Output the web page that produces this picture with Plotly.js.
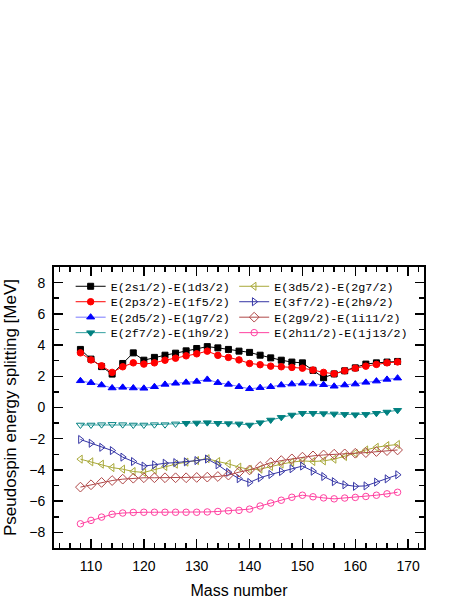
<!DOCTYPE html>
<html>
<head>
<meta charset="utf-8">
<script src="https://cdn.plot.ly/plotly-3.0.1.min.js"></script>
<style>
  html, body { margin: 0; padding: 0; background: #fff; }
  #chart { width: 463px; height: 599px; }
</style>
</head>
<body>
<div id="chart"></div>
<script>
// mass numbers, 108..168 in steps of 2
const mass = [108, 110, 112, 114, 116, 118, 120, 122, 124, 126, 128, 130, 132, 134, 136, 138,
              140, 142, 144, 146, 148, 150, 152, 154, 156, 158, 160, 162, 164, 166, 168];

// pseudospin splittings [MeV]
const s1d3 = [3.72, 3.10, 2.62, 2.14, 2.82, 3.50, 3.03, 3.21, 3.35, 3.48, 3.63, 3.78, 3.90, 3.82, 3.72, 3.61,
              3.53, 3.35, 3.18, 3.03, 2.91, 2.86, 2.38, 1.91, 2.15, 2.35, 2.54, 2.78, 2.86, 2.91, 2.95];
const p3f5 = [3.50, 3.05, 2.67, 2.25, 2.61, 2.86, 2.78, 2.86, 3.03, 3.16, 3.31, 3.44, 3.61, 3.34, 3.21, 3.05,
              2.82, 2.74, 2.65, 2.61, 2.57, 2.52, 2.40, 2.25, 2.16, 2.35, 2.52, 2.65, 2.76, 2.86, 2.92];
const d5g7 = [1.71, 1.59, 1.44, 1.25, 1.29, 1.25, 1.23, 1.33, 1.48, 1.55, 1.61, 1.67, 1.80, 1.59, 1.48, 1.33,
              1.20, 1.27, 1.33, 1.44, 1.50, 1.55, 1.50, 1.46, 1.36, 1.44, 1.50, 1.61, 1.69, 1.80, 1.88];
const f7h9 = [-1.12, -1.12, -1.10, -1.08, -1.10, -1.12, -1.12, -1.10, -1.10, -1.05, -1.01, -0.99, -0.97, -1.01, -1.03, -1.05,
              -1.12, -0.97, -0.80, -0.63, -0.48, -0.37, -0.37, -0.39, -0.41, -0.44, -0.46, -0.44, -0.37, -0.29, -0.18];
const d5g7b = [-3.31, -3.48, -3.63, -3.85, -3.95, -4.10, -4.16, -3.99, -3.78, -3.63, -3.50, -3.40, -3.28, -3.46, -3.61, -3.82,
               -3.97, -3.95, -3.78, -3.63, -3.50, -3.42, -3.46, -3.42, -3.31, -3.14, -2.93, -2.72, -2.55, -2.44, -2.37];
const f7h9b = [-2.05, -2.29, -2.55, -2.76, -3.18, -3.46, -3.75, -3.67, -3.57, -3.53, -3.48, -3.40, -3.30, -3.67, -4.15, -4.56,
               -4.80, -4.50, -4.29, -4.10, -3.92, -3.75, -4.08, -4.42, -4.75, -4.95, -5.05, -5.02, -4.78, -4.57, -4.31];
const g9i11 = [-5.10, -4.95, -4.80, -4.68, -4.59, -4.53, -4.50, -4.50, -4.50, -4.50, -4.50, -4.48, -4.46, -4.42, -4.33, -4.14,
               -4.00, -3.78, -3.53, -3.40, -3.29, -3.18, -3.10, -3.04, -2.99, -2.97, -2.93, -2.89, -2.82, -2.76, -2.72];
const h11j13 = [-7.45, -7.23, -7.02, -6.84, -6.76, -6.72, -6.71, -6.71, -6.71, -6.71, -6.71, -6.71, -6.69, -6.66, -6.62, -6.59,
                -6.51, -6.31, -6.12, -5.94, -5.75, -5.62, -5.72, -5.79, -5.85, -5.80, -5.76, -5.70, -5.62, -5.53, -5.43];

const names = ['E(2s1/2)-E(1d3/2)', 'E(2p3/2)-E(1f5/2)', 'E(2d5/2)-E(1g7/2)', 'E(2f7/2)-E(1h9/2)',
               'E(3d5/2)-E(2g7/2)', 'E(3f7/2)-E(2h9/2)', 'E(2g9/2)-E(1i11/2)', 'E(2h11/2)-E(1j13/2)'];

// the 2f7/2 points below this mass are drawn hollow in the original
const TEAL_OPEN_BELOW = 128;

function series(y, name, lineColor, markerColor, symbol, legend, size) {
  return {
    x: mass, y: y, name: name, legend: legend,
    type: 'scatter', mode: 'lines+markers',
    line: {color: lineColor, width: 1},
    marker: {color: markerColor, symbol: symbol, size: size, line: {color: markerColor, width: 1}},
  };
}

// teal one goes in reverse so the legend picks up a filled symbol
let tealX = mass.slice().reverse();
let tealY = f7h9.slice().reverse();
let tealSym = tealX.map(m => m < TEAL_OPEN_BELOW ? 'triangle-down-open' : 'triangle-down');

const traces = [
  series(s1d3, names[0], '#000000', '#000000', 'square', 'legend', 6),
  series(p3f5, names[1], '#ff0000', '#ff0000', 'circle', 'legend2', 6.5),
  series(d5g7, names[2], '#7878ff', '#0000ff', 'triangle-up', 'legend3', 7),
  {
    x: tealX, y: tealY, name: names[3], legend: 'legend4',
    type: 'scatter', mode: 'lines+markers',
    line: {color: '#33a0a0', width: 1},
    marker: {color: '#008080', symbol: tealSym, size: 7, line: {color: '#008080', width: 1}},
  },
  series(d5g7b, names[4], '#a8a838', '#a8a838', 'triangle-left-open', 'legend5', 7),
  series(f7h9b, names[5], '#3535a5', '#3535a5', 'triangle-right-open', 'legend6', 7),
  series(g9i11, names[6], '#b04848', '#b04848', 'diamond-open', 'legend7', 7.5),
  series(h11j13, names[7], '#ff40a0', '#ff40a0', 'circle-open', 'legend8', 6.5),
];

const legendFont = {family: 'Liberation Mono, Courier New, monospace', size: 11.7, color: '#000'};

// one legend per entry so the rows can sit as tight as in the original
const legendCols = [0.045, 0.487];
const legendRows = [0.983, 0.928, 0.873, 0.818];

const axisCommon = {
  showgrid: false, zeroline: false,
  showline: true, linecolor: '#000', linewidth: 2, mirror: 'allticks',
  ticks: 'inside', ticklen: 9, tickwidth: 1.5, tickcolor: '#000',
  tickfont: {family: 'Liberation Sans, Arial, sans-serif', size: 14, color: '#000'},
  ticklabelstandoff: 4,
  automargin: false,
};

const layout = {
  width: 463, height: 599,
  margin: {l: 54, r: 39, t: 267, b: 51},
  paper_bgcolor: '#fff', plot_bgcolor: '#fff',
  showlegend: true,
  xaxis: Object.assign({}, axisCommon, {
    range: [103, 173], dtick: 10, tick0: 100,
    minor: {dtick: 2, ticks: 'inside', ticklen: 5, tickwidth: 1.5, tickcolor: '#000'},
    title: {text: 'Mass number', font: {family: 'Liberation Sans, Arial, sans-serif', size: 16, color: '#000'}, standoff: 12},
  }),
  yaxis: Object.assign({}, axisCommon, {
    range: [-9, 9], dtick: 2, tick0: 0,
    minor: {dtick: 1, ticks: 'inside', ticklen: 5, tickwidth: 1.5, tickcolor: '#000'},
    title: {text: 'Pseudospin energy splitting [MeV]', font: {family: 'Liberation Sans, Arial, sans-serif', size: 17, color: '#000'}, standoff: 8},
  }),
};

for (let i = 0; i < 8; i++) {
  const key = i === 0 ? 'legend' : 'legend' + (i + 1);
  layout[key] = {
    x: legendCols[Math.floor(i / 4)], y: legendRows[i % 4],
    xanchor: 'left', yanchor: 'top',
    bgcolor: 'rgba(0,0,0,0)', borderwidth: 0, font: legendFont,
    tracegroupgap: 0, itemwidth: 30,
  };
}

Plotly.newPlot('chart', traces, layout, {displayModeBar: false, staticPlot: true});
</script>
</body>
</html>
